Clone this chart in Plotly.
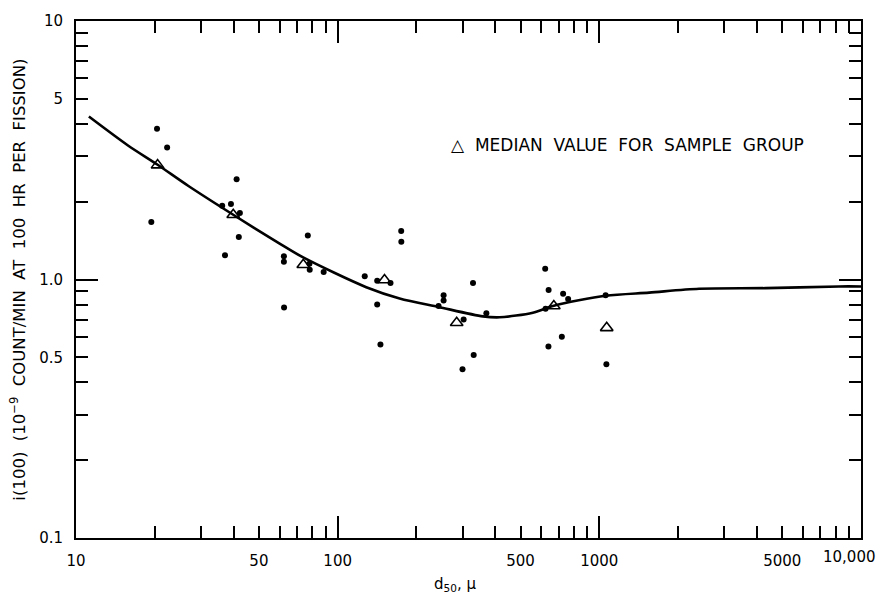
import plotly.graph_objects as go

# ---- data ----
dots_x = [20.4, 22.3, 41.1, 36.2, 39.1, 42.3, 19.4, 41.9, 37.1, 62.3, 62.3, 76.9, 78.0, 78.2,
          88.4, 126.9, 141.6, 159.2, 174.9, 175.1, 62.4, 141.6, 145.7, 329, 254, 254, 243,
          303, 370, 331, 300, 621, 640, 727, 760, 623, 1057, 719, 639, 1064]
dots_y = [3.83, 3.24, 2.44, 1.93, 1.96, 1.81, 1.67, 1.46, 1.24, 1.23, 1.17, 1.48, 1.15, 1.09,
          1.07, 1.03, 0.99, 0.97, 1.54, 1.40, 0.78, 0.80, 0.56, 0.97, 0.87, 0.83, 0.79,
          0.70, 0.74, 0.51, 0.45, 1.10, 0.91, 0.88, 0.84, 0.77, 0.87, 0.60, 0.55, 0.47]

median_x = [20.5, 39.9, 73.9, 151, 285, 670, 1067]
median_y = [2.77, 1.78, 1.14, 0.995, 0.68, 0.79, 0.65]

curve_x = [11.2, 15.8, 20.5, 26.9, 39.9, 59.8, 73.5, 128.6, 172.5, 243, 359, 416, 557,
           670, 1057, 1551, 2407, 4325, 8235, 10000]
curve_y = [4.27, 3.30, 2.78, 2.30, 1.78, 1.38, 1.22, 0.934, 0.845, 0.783, 0.720, 0.714,
           0.744, 0.792, 0.865, 0.890, 0.921, 0.926, 0.940, 0.940]

x_tick_vals = [10, 50, 100, 500, 1000, 5000]
x_tick_text = ["10", "50", "100", "500", "1000", "5000"]
x_last_label = "10,000"
x_minor = [20, 30, 40, 60, 70, 80, 90, 200, 300, 400, 600, 700, 800, 900,
           2000, 3000, 4000, 6000, 7000, 8000, 9000]
x_decades = [10, 100, 1000, 10000]

y_tick_vals = [0.1, 0.5, 1, 5, 10]
y_tick_text = ["0.1", "0.5", "1.0", "5", "10"]
y_minor = [0.2, 0.3, 0.4, 0.6, 0.7, 0.8, 0.9, 2, 3, 4, 6, 7, 8, 9]
y_decades = [0.1, 1, 10]

FONT = "DejaVu Sans"
SP = "\u00a0"

fig = go.Figure()
fig.add_trace(go.Scatter(x=curve_x, y=curve_y, mode="lines",
                         line=dict(color="black", width=2.6, shape="spline", smoothing=0.8),
                         hoverinfo="skip", showlegend=False))
fig.add_trace(go.Scatter(x=dots_x, y=dots_y, mode="markers",
                         marker=dict(color="black", size=6, symbol="circle"),
                         showlegend=False))
fig.add_trace(go.Scatter(x=median_x, y=median_y, mode="markers",
                         marker=dict(color="black", size=11, symbol="triangle-up-open",
                                     line=dict(width=1.6, color="black")),
                         showlegend=False))
# empty trace to register the overlay axes used for long decade ticks
fig.add_trace(go.Scatter(x=[], y=[], xaxis="x2", yaxis="y2", showlegend=False))

common = dict(type="log", showgrid=False, zeroline=False, color="black",
              showline=True, linewidth=2, linecolor="black", mirror="ticks",
              ticks="inside", tickcolor="black")

legend_text = (SP * 2).join(["△", "MEDIAN", "VALUE", "FOR", "SAMPLE", "GROUP"])
ytitle = (SP * 2).join(["i(100)", "(10<sup>−9</sup>", "COUNT/MIN", "AT", "100", "HR",
                         "PER", "FISSION)"])

fig.update_layout(
    width=881, height=602,
    margin=dict(l=76, r=20, t=18, b=64),
    paper_bgcolor="white", plot_bgcolor="white",
    font=dict(family=FONT, size=15, color="black"),
    xaxis=dict(**common, range=[1, 4], tickvals=x_tick_vals, ticktext=x_tick_text,
               ticklen=12, tickwidth=1.5, ticklabelstandoff=8,
               minor=dict(tickvals=x_minor, ticks="inside", ticklen=12, tickwidth=1.5,
                          tickcolor="black", showgrid=False)),
    yaxis=dict(**common, range=[-1, 1], tickvals=y_tick_vals, ticktext=y_tick_text,
               ticklen=12, tickwidth=1.5, ticklabelstandoff=8,
               minor=dict(tickvals=y_minor, ticks="inside", ticklen=12, tickwidth=1.5,
                          tickcolor="black", showgrid=False)),
    xaxis2=dict(**common, range=[1, 4], overlaying="x", anchor="y2", side="bottom",
                tickvals=x_decades, ticklen=22, tickwidth=1.5, showticklabels=False),
    yaxis2=dict(**common, range=[-1, 1], overlaying="y", anchor="x2", side="left",
                tickvals=y_decades, ticklen=22, tickwidth=1.5, showticklabels=False),
    annotations=[
        dict(text=legend_text, xref="paper", yref="paper",
             x=0.475, y=0.76, xanchor="left", yanchor="middle", showarrow=False,
             font=dict(family=FONT, size=17, color="black")),
        dict(text=ytitle,
             xref="paper", yref="paper", x=-0.075, y=0.5, textangle=-90,
             xanchor="center", yanchor="middle", showarrow=False,
             font=dict(family=FONT, size=16.5, color="black")),
        dict(text="d<sub>50</sub>, μ", xref="paper", yref="paper", x=0.483, y=-0.09,
             xanchor="center", yanchor="middle", showarrow=False,
             font=dict(family=FONT, size=15, color="black")),
        dict(text=x_last_label, xref="x", yref="paper", x=4, y=-0.036,
             xanchor="center", xshift=-12, yanchor="middle", showarrow=False,
             font=dict(family=FONT, size=15, color="black")),
    ],
)

fig.write_html("out.html")
